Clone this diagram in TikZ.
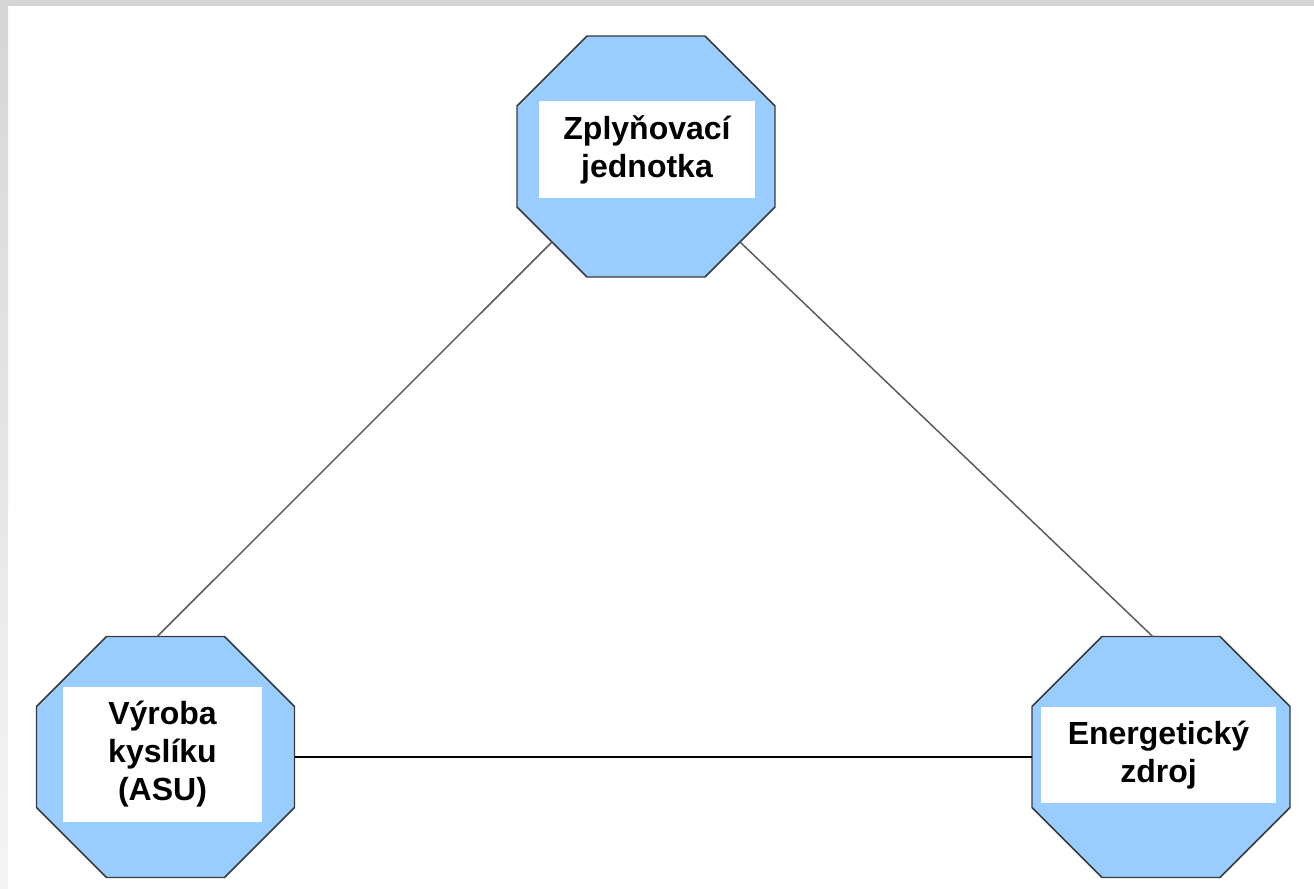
\documentclass[tikz,border=0pt]{standalone}
\usepackage{fontspec}
\setmainfont{Liberation Sans}
\usetikzlibrary{calc}
\definecolor{octfill}{HTML}{99CCFF}
\definecolor{octline}{HTML}{3A3A3A}
\definecolor{linkgrey}{HTML}{5A5A5A}
\definecolor{bandgrey}{HTML}{D6D6D6}
\tikzset{
  octagonline/.style={draw=octline, line width=1.1pt, fill=octfill, line join=miter},
  textbox/.style={fill=white, draw=none, inner sep=0pt, align=center,
    font=\bfseries\fontsize{24pt}{28.5pt}\selectfont},
  link/.style={draw=linkgrey, line width=1.1pt},
  hlink/.style={draw=black, line width=1.1pt},
  octa/.pic={
    \draw[octagonline] (-59,-120.5) -- (59,-120.5) -- (129,-50.5) -- (129,50.5)
      -- (59,120.5) -- (-59,120.5) -- (-129,50.5) -- (-129,-50.5) -- cycle;
    \coordinate (-nw) at (-59,-120.5);
    \coordinate (-ne) at (59,-120.5);
    \coordinate (-e) at (129,0);
    \coordinate (-w) at (-129,0);
    \coordinate (-sw) at (-94,85.5);
    \coordinate (-se) at (94,85.5);
  }
}
\begin{document}
\begin{tikzpicture}[x=0.75pt,y=-0.75pt]
\useasboundingbox (0,0) rectangle (1314,889);
\fill[white] (0,0) rectangle (1314,889);
\fill[bandgrey] (0,0) rectangle (1314,6);
\shade[top color=bandgrey, bottom color=white!96!black] (0,6) rectangle (8,889);
% octagons
\pic (zp) at (646,156.5) {octa};
\pic (vk) at (165.5,757) {octa};
\pic (ez) at (1161,757) {octa};
% text boxes
\node[textbox, minimum width=216*0.75pt, minimum height=97*0.75pt] (zpbox) at (647,149.5) {Zplyňovací\\jednotka};
\node[textbox, minimum width=199*0.75pt, minimum height=135*0.75pt] (vkbox) at (162.5,754.5) {Výroba\\kyslíku\\(ASU)};
\node[textbox, minimum width=235*0.75pt, minimum height=96*0.75pt] (ezbox) at (1158.5,755) {Energetický\\zdroj};
% connectors
\draw[link] (zp-sw) -- ($(vk-nw)!0.43!(vk-ne)$);
\draw[link] (zp-se) -- ($(ez-nw)!0.43!(ez-ne)$);
\draw[hlink] (vk-e) -- (ez-w);
\end{tikzpicture}
\end{document}
